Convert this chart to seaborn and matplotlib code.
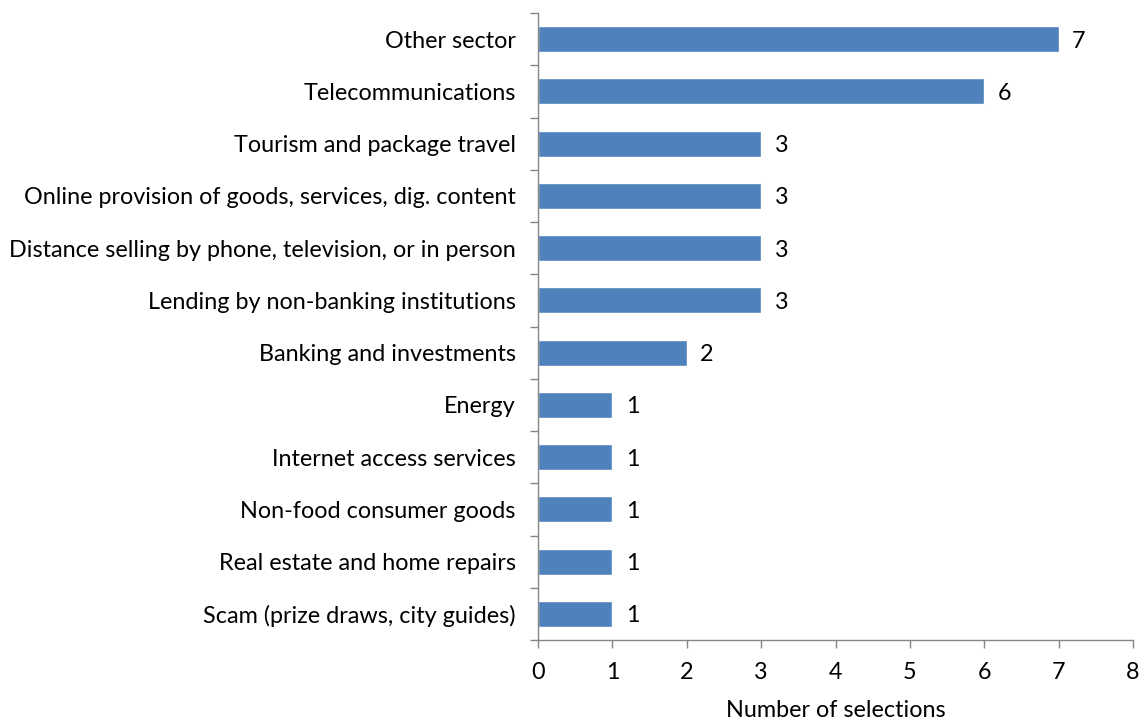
import numpy as np
import pandas as pd
import matplotlib
matplotlib.use("Agg")
import matplotlib.pyplot as plt
import seaborn as sns

sectors = [
    "Other sector",
    "Telecommunications",
    "Tourism and package travel",
    "Online provision of goods, services, dig. content",
    "Distance selling by phone, television, or in person",
    "Lending by non-banking institutions",
    "Banking and investments",
    "Energy",
    "Internet access services",
    "Non-food consumer goods",
    "Real estate and home repairs",
    "Scam (prize draws, city guides)",
]
selections = [7, 6, 3, 3, 3, 3, 2, 1, 1, 1, 1, 1]

df = pd.DataFrame({"sector": sectors, "n": selections})

sns.set_style("white")
plt.rcParams["font.family"] = ["Lato", "DejaVu Sans"]
plt.rcParams["text.color"] = "black"
plt.rcParams["axes.labelcolor"] = "black"
plt.rcParams["xtick.labelcolor"] = "black"
plt.rcParams["ytick.labelcolor"] = "black"
axis_grey = "#868686"
fs = 16.8

fig = plt.figure(figsize=(11.44, 7.2), dpi=100)
ax = fig.add_axes([0.4703, 0.1111, 0.5201, 0.8708])

sns.barplot(data=df, y="sector", x="n", orient="h", color="#4F81BD",
            saturation=1, width=0.5, ax=ax)

for i, v in enumerate(selections):
    ax.text(v + 0.18, i + 0.04, str(v), va="center", ha="left", fontsize=fs)

ax.set_xlim(0, 8)
ax.set_ylim(len(sectors) - 0.5, -0.5)
ax.set_xticks(range(0, 9))
ax.set_xlabel("Number of selections", fontsize=fs, labelpad=12)
ax.set_ylabel("")

# category labels without ticks, ticks on the boundaries
ax.tick_params(axis="y", which="major", left=True, length=0, pad=16,
               labelsize=fs, labelcolor="black")
ax.set_yticks(np.arange(-0.5, len(sectors), 1.0), minor=True)
ax.tick_params(axis="y", which="minor", left=True, length=6,
               color=axis_grey, width=1, direction="out")
ax.tick_params(axis="x", which="major", bottom=True, length=6,
               color=axis_grey, width=1, labelsize=fs, pad=10,
               direction="out", labelcolor="black")

for side in ["top", "right"]:
    ax.spines[side].set_visible(False)
for side in ["left", "bottom"]:
    ax.spines[side].set_color(axis_grey)
    ax.spines[side].set_linewidth(1)

fig.savefig("out.png", dpi=100)
